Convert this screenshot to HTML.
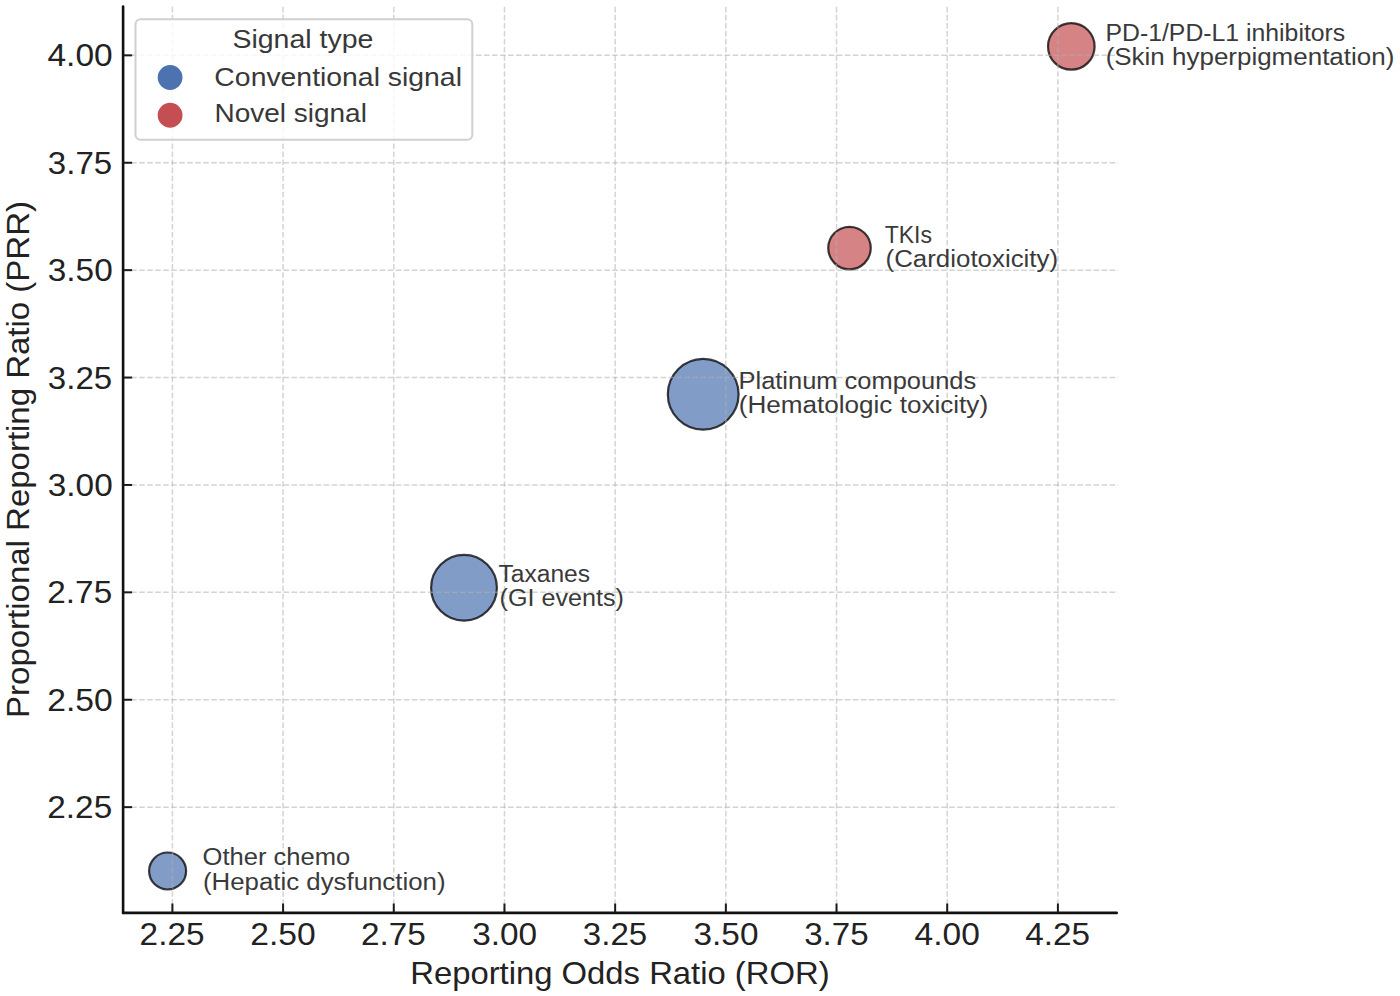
<!DOCTYPE html>
<html><head><meta charset="utf-8"><style>
html,body{margin:0;padding:0;background:#fff;}
svg{display:block;font-family:"Liberation Sans", sans-serif;}
</style></head><body>
<svg width="1400" height="996" viewBox="0 0 1400 996">
<rect width="1400" height="996" fill="#ffffff"/>
<circle cx="1071.3" cy="46.4" r="23.30" fill="rgb(214,131,134)"/>
<circle cx="1071.3" cy="46.4" r="23.30" fill="none" stroke="#000" stroke-opacity="0.75" stroke-width="2.2"/>
<circle cx="849.5" cy="248.1" r="21.25" fill="rgb(214,131,134)"/>
<circle cx="849.5" cy="248.1" r="21.25" fill="none" stroke="#000" stroke-opacity="0.75" stroke-width="2.2"/>
<circle cx="703.2" cy="394.3" r="35.40" fill="rgb(130,156,200)"/>
<circle cx="703.2" cy="394.3" r="35.40" fill="none" stroke="#000" stroke-opacity="0.75" stroke-width="2.2"/>
<circle cx="464.0" cy="587.8" r="32.90" fill="rgb(130,156,200)"/>
<circle cx="464.0" cy="587.8" r="32.90" fill="none" stroke="#000" stroke-opacity="0.75" stroke-width="2.2"/>
<circle cx="167.6" cy="871.0" r="18.50" fill="rgb(130,156,200)"/>
<circle cx="167.6" cy="871.0" r="18.50" fill="none" stroke="#000" stroke-opacity="0.75" stroke-width="2.2"/>
<line x1="172.40" y1="912.90" x2="172.40" y2="5.30" stroke="#b0b0b0" stroke-opacity="0.55" stroke-width="1.5" stroke-dasharray="5.61 2.43"/>
<line x1="283.09" y1="912.90" x2="283.09" y2="5.30" stroke="#b0b0b0" stroke-opacity="0.55" stroke-width="1.5" stroke-dasharray="5.61 2.43"/>
<line x1="393.77" y1="912.90" x2="393.77" y2="5.30" stroke="#b0b0b0" stroke-opacity="0.55" stroke-width="1.5" stroke-dasharray="5.61 2.43"/>
<line x1="504.46" y1="912.90" x2="504.46" y2="5.30" stroke="#b0b0b0" stroke-opacity="0.55" stroke-width="1.5" stroke-dasharray="5.61 2.43"/>
<line x1="615.15" y1="912.90" x2="615.15" y2="5.30" stroke="#b0b0b0" stroke-opacity="0.55" stroke-width="1.5" stroke-dasharray="5.61 2.43"/>
<line x1="725.84" y1="912.90" x2="725.84" y2="5.30" stroke="#b0b0b0" stroke-opacity="0.55" stroke-width="1.5" stroke-dasharray="5.61 2.43"/>
<line x1="836.52" y1="912.90" x2="836.52" y2="5.30" stroke="#b0b0b0" stroke-opacity="0.55" stroke-width="1.5" stroke-dasharray="5.61 2.43"/>
<line x1="947.21" y1="912.90" x2="947.21" y2="5.30" stroke="#b0b0b0" stroke-opacity="0.55" stroke-width="1.5" stroke-dasharray="5.61 2.43"/>
<line x1="1057.90" y1="912.90" x2="1057.90" y2="5.30" stroke="#b0b0b0" stroke-opacity="0.55" stroke-width="1.5" stroke-dasharray="5.61 2.43"/>
<line x1="123.10" y1="807.15" x2="1118.00" y2="807.15" stroke="#b0b0b0" stroke-opacity="0.55" stroke-width="1.5" stroke-dasharray="5.59 2.43"/>
<line x1="123.10" y1="699.75" x2="1118.00" y2="699.75" stroke="#b0b0b0" stroke-opacity="0.55" stroke-width="1.5" stroke-dasharray="5.59 2.43"/>
<line x1="123.10" y1="592.35" x2="1118.00" y2="592.35" stroke="#b0b0b0" stroke-opacity="0.55" stroke-width="1.5" stroke-dasharray="5.59 2.43"/>
<line x1="123.10" y1="484.95" x2="1118.00" y2="484.95" stroke="#b0b0b0" stroke-opacity="0.55" stroke-width="1.5" stroke-dasharray="5.59 2.43"/>
<line x1="123.10" y1="377.55" x2="1118.00" y2="377.55" stroke="#b0b0b0" stroke-opacity="0.55" stroke-width="1.5" stroke-dasharray="5.59 2.43"/>
<line x1="123.10" y1="270.15" x2="1118.00" y2="270.15" stroke="#b0b0b0" stroke-opacity="0.55" stroke-width="1.5" stroke-dasharray="5.59 2.43"/>
<line x1="123.10" y1="162.75" x2="1118.00" y2="162.75" stroke="#b0b0b0" stroke-opacity="0.55" stroke-width="1.5" stroke-dasharray="5.59 2.43"/>
<line x1="123.10" y1="55.35" x2="1118.00" y2="55.35" stroke="#b0b0b0" stroke-opacity="0.55" stroke-width="1.5" stroke-dasharray="5.59 2.43"/>
<line x1="123.1" y1="6.60" x2="123.1" y2="912.9" stroke="#111111" stroke-width="2.6" stroke-linecap="round"/>
<line x1="123.1" y1="912.9" x2="1116.70" y2="912.9" stroke="#111111" stroke-width="2.6" stroke-linecap="round"/>
<line x1="172.40" y1="912.9" x2="172.40" y2="903.50" stroke="#1a1a1a" stroke-width="2"/>
<line x1="283.09" y1="912.9" x2="283.09" y2="903.50" stroke="#1a1a1a" stroke-width="2"/>
<line x1="393.77" y1="912.9" x2="393.77" y2="903.50" stroke="#1a1a1a" stroke-width="2"/>
<line x1="504.46" y1="912.9" x2="504.46" y2="903.50" stroke="#1a1a1a" stroke-width="2"/>
<line x1="615.15" y1="912.9" x2="615.15" y2="903.50" stroke="#1a1a1a" stroke-width="2"/>
<line x1="725.84" y1="912.9" x2="725.84" y2="903.50" stroke="#1a1a1a" stroke-width="2"/>
<line x1="836.52" y1="912.9" x2="836.52" y2="903.50" stroke="#1a1a1a" stroke-width="2"/>
<line x1="947.21" y1="912.9" x2="947.21" y2="903.50" stroke="#1a1a1a" stroke-width="2"/>
<line x1="1057.90" y1="912.9" x2="1057.90" y2="903.50" stroke="#1a1a1a" stroke-width="2"/>
<line x1="123.1" y1="807.15" x2="132.10" y2="807.15" stroke="#1a1a1a" stroke-width="2"/>
<line x1="123.1" y1="699.75" x2="132.10" y2="699.75" stroke="#1a1a1a" stroke-width="2"/>
<line x1="123.1" y1="592.35" x2="132.10" y2="592.35" stroke="#1a1a1a" stroke-width="2"/>
<line x1="123.1" y1="484.95" x2="132.10" y2="484.95" stroke="#1a1a1a" stroke-width="2"/>
<line x1="123.1" y1="377.55" x2="132.10" y2="377.55" stroke="#1a1a1a" stroke-width="2"/>
<line x1="123.1" y1="270.15" x2="132.10" y2="270.15" stroke="#1a1a1a" stroke-width="2"/>
<line x1="123.1" y1="162.75" x2="132.10" y2="162.75" stroke="#1a1a1a" stroke-width="2"/>
<line x1="123.1" y1="55.35" x2="132.10" y2="55.35" stroke="#1a1a1a" stroke-width="2"/>
<text x="139.61" y="944.50" font-size="32.01" textLength="64.86" lengthAdjust="spacingAndGlyphs" fill="#222222">2.25</text>
<text x="250.29" y="944.50" font-size="32.01" textLength="65.40" lengthAdjust="spacingAndGlyphs" fill="#222222">2.50</text>
<text x="360.99" y="944.50" font-size="32.01" textLength="64.86" lengthAdjust="spacingAndGlyphs" fill="#222222">2.75</text>
<text x="472.17" y="944.50" font-size="32.01" textLength="64.89" lengthAdjust="spacingAndGlyphs" fill="#222222">3.00</text>
<text x="582.86" y="944.50" font-size="32.01" textLength="64.35" lengthAdjust="spacingAndGlyphs" fill="#222222">3.25</text>
<text x="693.54" y="944.50" font-size="32.01" textLength="64.89" lengthAdjust="spacingAndGlyphs" fill="#222222">3.50</text>
<text x="804.24" y="944.50" font-size="32.01" textLength="64.35" lengthAdjust="spacingAndGlyphs" fill="#222222">3.75</text>
<text x="914.59" y="944.50" font-size="32.01" textLength="65.22" lengthAdjust="spacingAndGlyphs" fill="#222222">4.00</text>
<text x="1025.28" y="944.50" font-size="32.01" textLength="64.69" lengthAdjust="spacingAndGlyphs" fill="#222222">4.25</text>
<text x="47.32" y="818.20" font-size="32.01" textLength="64.86" lengthAdjust="spacingAndGlyphs" fill="#222222">2.25</text>
<text x="47.31" y="710.80" font-size="32.01" textLength="65.40" lengthAdjust="spacingAndGlyphs" fill="#222222">2.50</text>
<text x="47.32" y="603.40" font-size="32.01" textLength="64.86" lengthAdjust="spacingAndGlyphs" fill="#222222">2.75</text>
<text x="47.82" y="496.00" font-size="32.01" textLength="64.89" lengthAdjust="spacingAndGlyphs" fill="#222222">3.00</text>
<text x="47.83" y="388.60" font-size="32.01" textLength="64.35" lengthAdjust="spacingAndGlyphs" fill="#222222">3.25</text>
<text x="47.82" y="281.20" font-size="32.01" textLength="64.89" lengthAdjust="spacingAndGlyphs" fill="#222222">3.50</text>
<text x="47.83" y="173.80" font-size="32.01" textLength="64.35" lengthAdjust="spacingAndGlyphs" fill="#222222">3.75</text>
<text x="47.49" y="66.40" font-size="32.01" textLength="65.22" lengthAdjust="spacingAndGlyphs" fill="#222222">4.00</text>
<text x="410.19" y="984.30" font-size="32.07" textLength="419.48" lengthAdjust="spacingAndGlyphs" fill="#222222">Reporting Odds Ratio (ROR)</text>
<g transform="translate(29.2,0) rotate(-90)"><text x="-717.92" y="0.00" font-size="31.96" textLength="516.84" lengthAdjust="spacingAndGlyphs" fill="#222222">Proportional Reporting Ratio (PRR)</text></g>
<text x="1105.51" y="40.60" font-size="23.50" textLength="239.72" lengthAdjust="spacingAndGlyphs" fill="#3a3a3a">PD-1/PD-L1 inhibitors</text>
<text x="1105.65" y="65.10" font-size="23.50" textLength="288.66" lengthAdjust="spacingAndGlyphs" fill="#3a3a3a">(Skin hyperpigmentation)</text>
<text x="884.67" y="242.60" font-size="23.50" textLength="47.39" lengthAdjust="spacingAndGlyphs" fill="#3a3a3a">TKIs</text>
<text x="885.55" y="267.10" font-size="23.50" textLength="172.52" lengthAdjust="spacingAndGlyphs" fill="#3a3a3a">(Cardiotoxicity)</text>
<text x="738.50" y="388.50" font-size="23.50" textLength="237.66" lengthAdjust="spacingAndGlyphs" fill="#3a3a3a">Platinum compounds</text>
<text x="738.69" y="413.00" font-size="23.50" textLength="249.39" lengthAdjust="spacingAndGlyphs" fill="#3a3a3a">(Hematologic toxicity)</text>
<text x="498.54" y="581.80" font-size="23.50" textLength="91.52" lengthAdjust="spacingAndGlyphs" fill="#3a3a3a">Taxanes</text>
<text x="499.50" y="606.30" font-size="23.50" textLength="124.41" lengthAdjust="spacingAndGlyphs" fill="#3a3a3a">(GI events)</text>
<text x="202.63" y="865.10" font-size="23.50" textLength="147.62" lengthAdjust="spacingAndGlyphs" fill="#3a3a3a">Other chemo</text>
<text x="202.91" y="889.60" font-size="23.50" textLength="242.63" lengthAdjust="spacingAndGlyphs" fill="#3a3a3a">(Hepatic dysfunction)</text>
<rect x="135.5" y="19.3" width="336.8" height="120.4" rx="5" ry="5" fill="#ffffff" fill-opacity="0.8" stroke="#d0d0d0" stroke-width="2"/>
<text x="232.42" y="47.80" font-size="26.55" textLength="141.01" lengthAdjust="spacingAndGlyphs" fill="#383838">Signal type</text>
<text x="214.38" y="85.50" font-size="26.55" textLength="247.56" lengthAdjust="spacingAndGlyphs" fill="#383838">Conventional signal</text>
<text x="214.43" y="122.40" font-size="26.55" textLength="152.45" lengthAdjust="spacingAndGlyphs" fill="#383838">Novel signal</text>
<circle cx="170.1" cy="77.5" r="12.4" fill="#4C72B0"/>
<circle cx="170.1" cy="115.25" r="12.4" fill="#C44E52"/>
</svg>
</body></html>
